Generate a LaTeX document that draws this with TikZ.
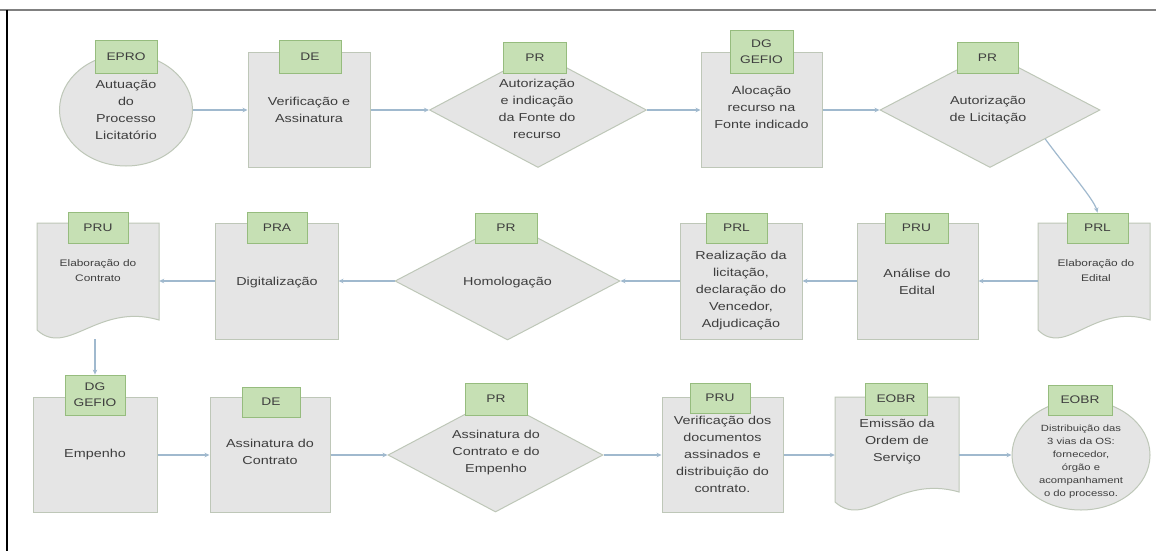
\documentclass[tikz,border=0pt]{standalone}
\usepackage{fontspec}
\setmainfont{Liberation Sans}[FakeStretch=1.25]
\usetikzlibrary{shapes.geometric,arrows.meta}
\definecolor{shfill}{RGB}{229,229,229}
\definecolor{shdraw}{RGB}{190,199,184}
\definecolor{lbfill}{RGB}{198,224,180}
\definecolor{lbdraw}{RGB}{150,188,126}
\definecolor{arr}{RGB}{160,185,206}
\definecolor{txt}{RGB}{62,62,62}
\definecolor{frame}{RGB}{128,128,128}
\newcommand\docpath[4]{%
  \draw[docstyle] (#1,#3) -- (#2,#3) -- (#2,{#4-10})
    .. controls ({#1+0.5*(#2-#1)},{#4-28}) and ({#1+0.25*(#2-#1)},{#4+28}) .. (#1,#4) -- cycle;}
\begin{document}
\begin{tikzpicture}[x=1pt,y=-1pt,
  every node/.style={text=txt},
  proc/.style={rectangle, draw=shdraw, fill=shfill, line width=1pt, inner sep=0pt},
  decis/.style={diamond, draw=shdraw, fill=shfill, line width=1pt, inner sep=0pt},
  term/.style={ellipse, draw=shdraw, fill=shfill, line width=1pt, inner sep=0pt},
  docstyle/.style={draw=shdraw, fill=shfill, line width=1pt},
  hook/.style={rectangle, draw=none, inner sep=0pt},
  tag/.style={rectangle, draw=lbdraw, fill=lbfill, line width=0.8pt, inner sep=0pt, align=center, font=\fontsize{11}{16}\selectfont},
  body/.style={align=center, inner sep=0pt, font=\fontsize{11.5}{17}\selectfont},
  small/.style={align=center, inner sep=0pt, font=\fontsize{9.5}{15}\selectfont},
  tiny/.style={align=center, inner sep=0pt, font=\fontsize{9}{13}\selectfont},
  flow/.style={draw=arr, line width=1.2pt, -{Stealth[length=5pt,width=4.5pt]}}
]
\useasboundingbox (0,0) rectangle (1156,551);
\fill[white] (0,0) rectangle (1156,551);
\draw[frame, line width=1.5pt] (0,10) -- (1156,10);
\draw[black, line width=1.5pt] (7,10) -- (7,551);

% ---------- row 1 ----------
\node[term, minimum width=133pt, minimum height=112pt] (e1) at (126,110) {};
\node[proc, minimum width=122pt, minimum height=115pt] (b1) at (309,110) {};
\node[decis, minimum width=217pt, minimum height=115pt] (d1) at (538,110) {};
\node[proc, minimum width=121pt, minimum height=115pt] (b2) at (761.5,110) {};
\node[decis, minimum width=220pt, minimum height=115pt] (d2) at (990,110) {};

% ---------- row 2 ----------
\docpath{1038}{1150}{223}{330}
\node[hook, minimum width=112pt, minimum height=116pt] (doc2) at (1094,281) {};
\node[proc, minimum width=121pt, minimum height=116pt] (b3) at (917.5,281) {};
\node[proc, minimum width=122pt, minimum height=116pt] (b4) at (741,281) {};
\node[decis, minimum width=225pt, minimum height=118pt] (d3) at (507.5,281) {};
\node[proc, minimum width=123pt, minimum height=116pt] (b5) at (276.5,281) {};
\docpath{37}{159}{223}{330}
\node[hook, minimum width=122pt, minimum height=116pt] (doc1) at (98,281) {};

% ---------- row 3 ----------
\node[proc, minimum width=124pt, minimum height=115pt] (b6) at (95,455) {};
\node[proc, minimum width=120pt, minimum height=115pt] (b7) at (270,455) {};
\node[decis, minimum width=215pt, minimum height=114pt] (d4) at (495.5,455) {};
\node[proc, minimum width=121pt, minimum height=115pt] (b8) at (722.5,455) {};
\docpath{835}{959}{397}{502}
\node[hook, minimum width=124pt, minimum height=115pt] (doc3) at (897,455) {};
\node[term, minimum width=138pt, minimum height=110pt] (e2) at (1081,455) {};

% ---------- tags ----------
\node[tag, minimum width=62pt, minimum height=33pt] (t1) at (126,56.5) {EPRO};
\node[tag, minimum width=62pt, minimum height=33pt] (t2) at (310,56.5) {DE};
\node[tag, minimum width=63pt, minimum height=31pt] (t3) at (535,57.5) {PR};
\node[tag, minimum width=63pt, minimum height=43pt] (t4) at (761.5,51.5) {DG\\GEFIO};
\node[tag, minimum width=61pt, minimum height=31pt] (t5) at (987.5,57.5) {PR};
\node[tag, minimum width=61pt, minimum height=30pt] (t6) at (1097.5,228) {PRL};
\node[tag, minimum width=63pt, minimum height=30pt] (t7) at (916.5,228) {PRU};
\node[tag, minimum width=61pt, minimum height=30pt] (t8) at (736.5,228) {PRL};
\node[tag, minimum width=62pt, minimum height=30pt] (t9) at (506,228) {PR};
\node[tag, minimum width=60pt, minimum height=31pt] (t10) at (277,227.5) {PRA};
\node[tag, minimum width=60pt, minimum height=31pt] (t11) at (98,227.5) {PRU};
\node[tag, minimum width=60pt, minimum height=40pt] (t12) at (95,395) {DG\\GEFIO};
\node[tag, minimum width=58pt, minimum height=30pt] (t13) at (271,402) {DE};
\node[tag, minimum width=62pt, minimum height=32pt] (t14) at (496,399) {PR};
\node[tag, minimum width=60pt, minimum height=30pt] (t15) at (720,398) {PRU};
\node[tag, minimum width=62pt, minimum height=32pt] (t16) at (896,399) {EOBR};
\node[tag, minimum width=64pt, minimum height=30pt] (t17) at (1080,400) {EOBR};

% ---------- texts ----------
\node[body] (x1) at (126,110) {Autuação\\do\\Processo\\Licitatório};
\node[body] (x2) at (309,110) {Verificação e\\Assinatura};
\node[body] (x3) at (537,109) {Autorização\\e indicação\\da Fonte do\\recurso};
\node[body] (x4) at (761.5,107) {Alocação\\recurso na\\Fonte indicado};
\node[body] (x5) at (988,110) {Autorização\\de Licitação};
\node[small] (x6) at (1096,270.5) {Elaboração do\\Edital};
\node[body] (x7) at (917,282) {Análise do\\Edital};
\node[body] (x8) at (741,291) {Realização da\\licitação,\\declaração do\\Vencedor,\\Adjudicação};
\node[body] (x9) at (507.5,283) {Homologação};
\node[body] (x10) at (277,283) {Digitalização};
\node[small] (x11) at (98,270.5) {Elaboração do\\Contrato};
\node[body] (x12) at (95,455) {Empenho};
\node[body] (x13) at (270,452) {Assinatura do\\Contrato};
\node[body] (x14) at (496,453) {Assinatura do\\Contrato e do\\Empenho};
\node[body] (x15) at (722.5,454) {Verificação dos\\documentos\\assinados e\\distribuição do\\contrato.};
\node[body] (x16) at (897,442) {Emissão da\\Ordem de\\Serviço};
\node[tiny] (x17) at (1081,462) {Distribuição das\\3 vias da OS:\\fornecedor,\\órgão e\\acompanhament\\o do processo.};

% ---------- connectors ----------
\draw[flow] (e1) -- (b1);
\draw[flow] (b1) -- (d1);
\draw[flow] (d1) -- (b2);
\draw[flow] (b2) -- (d2);
\draw[flow] (d2.south east) .. controls +(22,30) and +(-4,-14) .. (t6.north);
\draw[flow] (doc2) -- (b3);
\draw[flow] (b3) -- (b4);
\draw[flow] (b4) -- (d3);
\draw[flow] (d3) -- (b5);
\draw[flow] (b5) -- (doc1);
\draw[flow] (doc1.south -| t12.north) -- (t12.north);
\draw[flow] (b6) -- (b7);
\draw[flow] (b7) -- (d4);
\draw[flow] (d4) -- (b8);
\draw[flow] (b8) -- (doc3);
\draw[flow] (doc3) -- (e2);
\end{tikzpicture}
\end{document}
